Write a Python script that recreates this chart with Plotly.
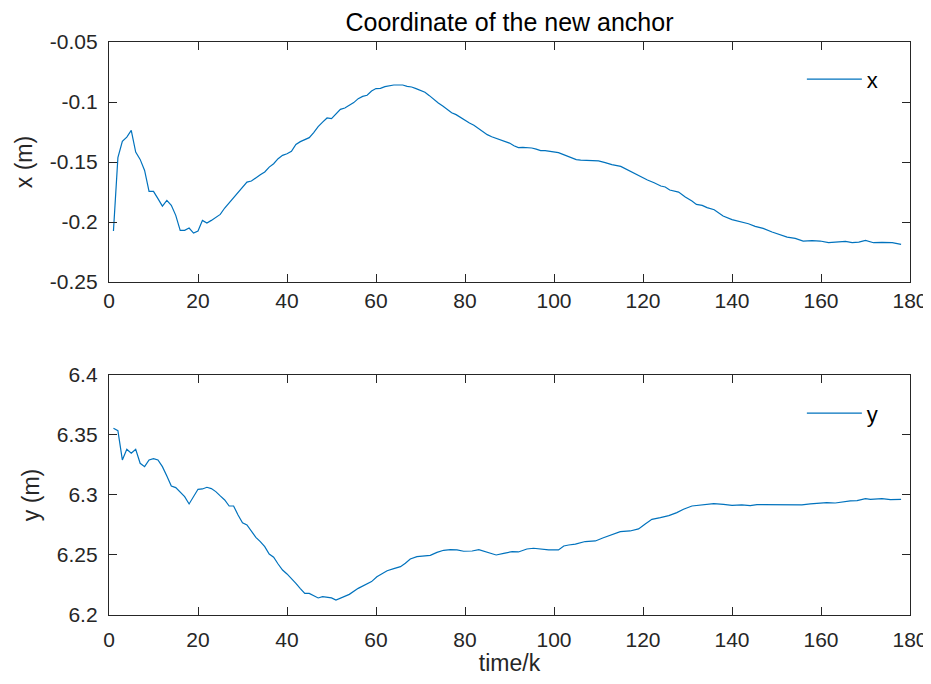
import plotly.graph_objects as go

# ---- data ----
k_x = [1, 2, 3, 4, 5, 6, 7, 8, 9, 10, 11, 12, 13, 14, 15, 16, 17, 18, 19, 20,
       21, 22, 23, 24, 25, 26, 27, 28, 29, 30, 31, 32, 33, 34, 35, 36, 37, 38, 39, 40,
       41, 42, 43, 44, 45, 46, 47, 48, 49, 50, 51, 52, 53, 54, 55, 56, 57, 58, 59, 60,
       61, 62, 63, 64, 65, 66, 67, 68, 69, 70, 71, 72, 73, 74, 75, 76, 77, 78, 79, 80,
       81, 82, 83, 84, 85, 86, 87, 88, 89, 90, 91, 92, 93, 94, 95, 96, 97, 98, 99, 100,
       101, 102, 103, 104, 105, 106, 107, 108, 109, 110, 111.5, 113, 115, 116.5, 118, 119.5,
       121, 122.5, 124, 125, 126, 128, 129.5, 131, 132, 133.3, 134.4, 136, 137, 138, 140,
       142, 143.7, 145.2, 147, 149, 151, 152.4, 154.2, 156, 158, 159.8, 161.7, 163.6,
       165.5, 167, 168.5, 170, 171.8, 173.7, 176, 178]
x_val = [-0.2075, -0.1463, -0.1328, -0.1292, -0.1236, -0.1417, -0.1478, -0.1570, -0.1744, -0.1744,
         -0.1805, -0.1867, -0.1819, -0.1861, -0.1944, -0.2069, -0.2069, -0.2050, -0.2092, -0.2075,
         -0.1986, -0.2008, -0.1986, -0.1958, -0.1936, -0.1883, -0.1841, -0.1797, -0.1750, -0.1708,
         -0.1667, -0.1658, -0.1630, -0.1605, -0.1583, -0.1542, -0.1514, -0.1472, -0.1444, -0.1431,
         -0.1411, -0.1353, -0.1330, -0.1310, -0.1297, -0.1255, -0.1205, -0.1167, -0.1133, -0.1139,
         -0.1097, -0.1061, -0.1050, -0.1028, -0.1005, -0.0972, -0.0953, -0.0944, -0.0908, -0.0888,
         -0.0886, -0.0872, -0.0864, -0.0858, -0.0858, -0.0858, -0.0869, -0.0875, -0.0888, -0.0905,
         -0.0919, -0.0947, -0.0980, -0.1008, -0.1033, -0.1061, -0.1089, -0.1105, -0.1130, -0.1155,
         -0.1175, -0.1194, -0.1222, -0.1247, -0.1272, -0.1289, -0.1303, -0.1319, -0.1333, -0.1342,
         -0.1364, -0.1380, -0.1378, -0.1378, -0.1383, -0.1392, -0.1405, -0.1405, -0.1411, -0.1422,
         -0.1422, -0.1436, -0.1450, -0.1464, -0.1480, -0.1484, -0.1486, -0.1489, -0.1489, -0.1491,
         -0.1505, -0.1522, -0.1536, -0.1564, -0.1597, -0.1625,
         -0.1650, -0.1672, -0.1700, -0.1708, -0.1733, -0.1750, -0.1792, -0.1825, -0.1853, -0.1861,
         -0.1880, -0.1897, -0.1925, -0.1950, -0.1980,
         -0.2000, -0.2014, -0.2036, -0.2053, -0.2083, -0.2111, -0.2125, -0.2136, -0.2158, -0.2155,
         -0.2158, -0.2172, -0.2167, -0.2161, -0.2172, -0.2167, -0.2153, -0.2172, -0.2169, -0.2172,
         -0.2186]

k_y = [1, 2, 3, 4, 5, 6, 7, 8, 9, 10, 11, 12, 13, 14, 15, 16, 17, 18, 19, 20,
       21, 22, 23, 24, 25, 26, 27, 28, 29, 30, 31, 32, 33, 34, 35, 36, 37, 38, 39, 40,
       41, 42, 43, 44, 45, 47, 48, 50, 51, 53, 54, 56, 57.6, 59, 60.2, 61.3, 62.5, 64,
       65.5, 66.6, 67.7, 69.2, 70.7, 72.2, 73.7, 75.2, 76.7, 78.2, 79.7, 81.6, 83.1,
       84.9, 87, 88.7, 90.6, 92, 93.9, 95.4, 96.9, 98.8, 101, 102.2, 103.3, 104.8,
       107, 109.3, 111.1, 113, 114.9, 117.1, 119, 120.5, 122, 123.9, 125.8, 127.6,
       129.1, 131, 132.5, 134, 135.9, 138.1, 140, 142.2, 144.1, 145.6, 147.9, 150.1,
       152, 153.8, 155.7, 157.6, 159.5, 161.3, 163.2, 165.1, 166.6, 168.1, 170, 171.1,
       173.7, 175.6, 178]
y_val = [6.3556, 6.3536, 6.3292, 6.3381, 6.3347, 6.3381, 6.3264, 6.3236, 6.3292, 6.3303,
         6.3292, 6.3236, 6.3158, 6.3075, 6.3061, 6.3019, 6.2986, 6.2925, 6.2986, 6.3047,
         6.3050, 6.3064, 6.3053, 6.3028, 6.2992, 6.2958, 6.2908, 6.2908, 6.2833, 6.2769,
         6.2750, 6.2700, 6.2647, 6.2611, 6.2569, 6.2508, 6.2481, 6.2425, 6.2375, 6.2342,
         6.2306, 6.2264, 6.2220, 6.2180, 6.2180, 6.2142, 6.2153, 6.2142, 6.2125, 6.2158,
         6.2172, 6.2222, 6.2250, 6.2278, 6.2319, 6.2342, 6.2369, 6.2386,
         6.2403, 6.2431, 6.2467, 6.2486, 6.2492, 6.2497, 6.2522, 6.2539, 6.2544, 6.2542,
         6.2531, 6.2533, 6.2544,
         6.2522, 6.2500, 6.2514, 6.2528, 6.2525, 6.2550, 6.2556, 6.2550, 6.2542, 6.2542,
         6.2575, 6.2583, 6.2590,
         6.2612, 6.2617, 6.2644, 6.2672, 6.2694, 6.2700, 6.2717, 6.2758, 6.2797, 6.2811,
         6.2828, 6.2853,
         6.2881, 6.2908, 6.2914, 6.2925, 6.2928, 6.2922, 6.2914, 6.2917, 6.2911, 6.2919,
         6.2919, 6.2922,
         6.2922, 6.2922, 6.2917, 6.2925, 6.2931, 6.2936, 6.2933, 6.2944, 6.2950, 6.2953,
         6.2970, 6.2964,
         6.2970, 6.2961, 6.2964]

x_ticks = [0, 20, 40, 60, 80, 100, 120, 140, 160, 180]
top_ticks = [-0.25, -0.2, -0.15, -0.1, -0.05]
top_ticktext = ["-0.25", "-0.2", "-0.15", "-0.1", "-0.05"]
bot_ticks = [6.2, 6.25, 6.3, 6.35, 6.4]
bot_ticktext = ["6.2", "6.25", "6.3", "6.35", "6.4"]

LINE = "#0072BD"
AX = "#262626"
FONT = "Liberation Sans, Arial, sans-serif"

fig = go.Figure()
fig.add_trace(go.Scatter(x=k_x, y=x_val, mode="lines", name="x", showlegend=True,
                         line=dict(color=LINE, width=1.2),
                         xaxis="x", yaxis="y", legend="legend"))
fig.add_trace(go.Scatter(x=k_y, y=y_val, mode="lines", name="y", showlegend=True,
                         line=dict(color=LINE, width=1.2),
                         xaxis="x2", yaxis="y2", legend="legend2"))

common = dict(showline=True, linecolor=AX, linewidth=1.3, mirror="ticks",
              ticks="inside", ticklen=8, tickwidth=1.3, tickcolor=AX,
              showgrid=False, zeroline=False, automargin=False,
              tickfont=dict(family=FONT, size=21, color=AX))

# page body has an 8px margin, so the figure is sized/margined to compensate
W, H = 923, 668
fig.update_layout(
    width=W, height=H,
    margin=dict(l=101, r=21, t=34, b=61),
    paper_bgcolor="white", plot_bgcolor="white",
    font=dict(family=FONT, color=AX),
    showlegend=True,
    title=dict(text="Coordinate of the new anchor", x=0.5, xref="paper",
               y=1 - 14 / H, yref="container", yanchor="middle",
               font=dict(family=FONT, size=25, color="black"), automargin=False),
    xaxis=dict(domain=[0, 1], anchor="y", range=[0, 180], tickvals=x_ticks,
               ticklabelstandoff=0, ticklabeloverflow="allow", **common),
    yaxis=dict(domain=[0.581, 1], anchor="x", range=[-0.25, -0.05],
               tickvals=top_ticks, ticktext=top_ticktext, ticklabelstandoff=6,
               title=dict(text="x (m)", standoff=10,
                          font=dict(family=FONT, size=23, color=AX)),
               **common),
    xaxis2=dict(domain=[0, 1], anchor="y2", range=[0, 180], tickvals=x_ticks,
                ticklabelstandoff=6, ticklabeloverflow="allow",
                title=dict(text="time/k", standoff=6,
                           font=dict(family=FONT, size=23, color=AX)),
                **common),
    yaxis2=dict(domain=[0, 0.419], anchor="x2", range=[6.2, 6.4],
                tickvals=bot_ticks, ticktext=bot_ticktext, ticklabelstandoff=6,
                title=dict(text="y (m)", standoff=10,
                           font=dict(family=FONT, size=23, color=AX)),
                **common),
    legend=dict(x=0.865, y=0.935, xanchor="left", yanchor="middle",
                bgcolor="rgba(0,0,0,0)", itemwidth=55, visible=True,
                font=dict(family=FONT, size=22, color="black")),
    legend2=dict(x=0.865, y=0.352, xanchor="left", yanchor="middle",
                 bgcolor="rgba(0,0,0,0)", itemwidth=55, visible=True,
                 font=dict(family=FONT, size=22, color="black")),
)

fig.write_html("out.html")
